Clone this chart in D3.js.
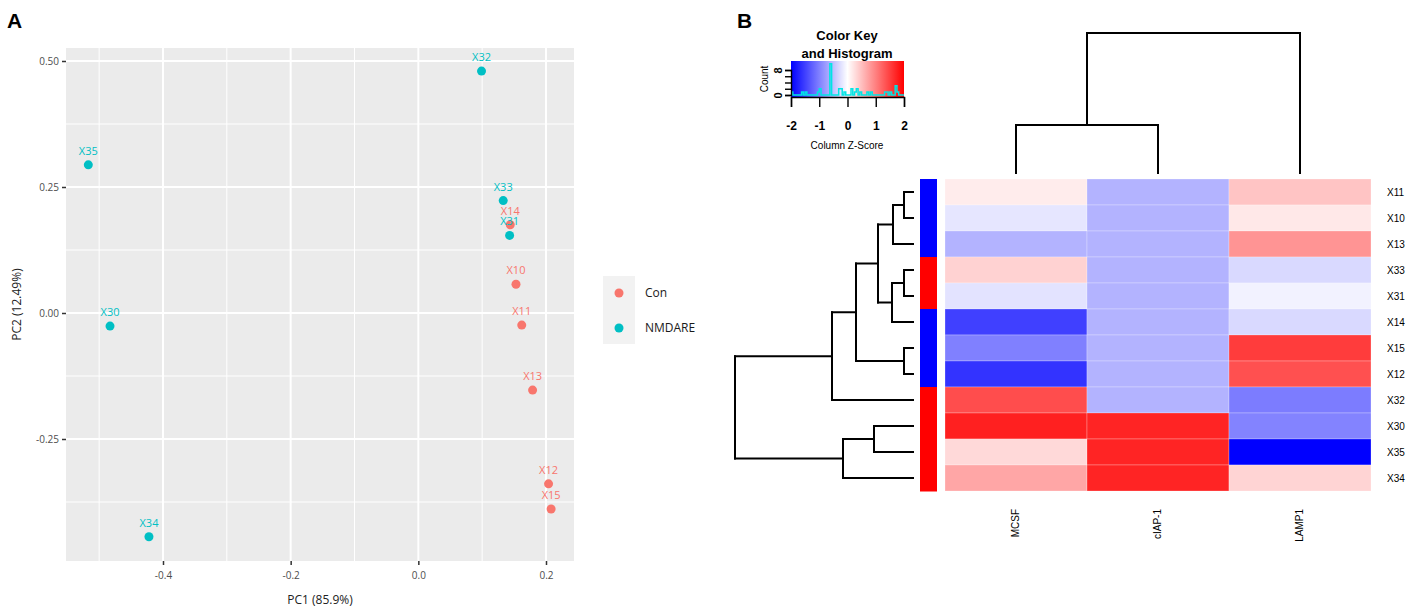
<!DOCTYPE html>
<html>
<head>
<meta charset="utf-8">
<script src="https://cdn.jsdelivr.net/npm/d3@7"></script>
<style>
  body { margin: 0; background: #fff; }
  svg { display: block; }
</style>
</head>
<body>
<script>
// ---- panel A data (PCA) ----
const pcaSamples = ["X35", "X30", "X34", "X32", "X33", "X14", "X31", "X10", "X11", "X13", "X12", "X15"];
const pcaGroup = ["NMDARE", "NMDARE", "NMDARE", "NMDARE", "NMDARE", "Con", "NMDARE", "Con", "Con", "Con", "Con", "Con"];
const pc1 = [-0.517, -0.483, -0.422, 0.099, 0.133, 0.144, 0.143, 0.153, 0.162, 0.179, 0.204, 0.208];
const pc2 = [0.294, -0.026, -0.444, 0.48, 0.223, 0.175, 0.154, 0.057, -0.024, -0.153, -0.339, -0.389];
const groups = ["Con", "NMDARE"];
const pc1Ticks = [-0.4, -0.2, 0.0, 0.2];
const pc2Ticks = [-0.25, 0.0, 0.25, 0.5];

// ---- panel B data (heatmap, column z-scores) ----
const genes = ["MCSF", "cIAP-1", "LAMP1"];
const rowSamples = ["X11", "X10", "X13", "X33", "X31", "X14", "X15", "X12", "X32", "X30", "X35", "X34"];
const mcsf = [0.15, -0.2, -0.6, 0.35, -0.22, -1.5, -1.0, -1.6, 1.4, 1.75, 0.3, 0.7];
const ciap1 = [-0.6, -0.6, -0.6, -0.6, -0.6, -0.6, -0.6, -0.6, -0.6, 1.72, 1.72, 1.72];
const lamp1 = [0.46, 0.18, 0.84, -0.3, -0.1, -0.3, 1.53, 1.37, -1.03, -0.97, -2.0, 0.34];
const rowSide = ["a", "a", "a", "b", "b", "a", "a", "a", "b", "b", "b", "b"];
// hclust-style merges: negative = leaf (1-based), positive = earlier merge
const rowMerge = [
  [-1, -2, 0.9], [-4, -5, 0.9], [-7, -8, 0.9], [1, -3, 2.0], [2, -6, 2.1], [4, 5, 3.5],
  [-10, -11, 3.9], [6, 3, 5.7], [7, -12, 7.0], [8, -9, 8.1], [10, 9, 17.8]
];
const colMerge = [[-1, -2, 4.8], [1, -3, 14.0]];
const keyTicks = [-2, -1, 0, 1, 2];

const svg = d3.select("body").append("svg").attr("width", 1417).attr("height", 616);

svg.append("text").attr("x", 7).attr("y", 28).text("A")
  .style("font", "bold 21px 'Liberation Sans', Arial, sans-serif");
svg.append("text").attr("x", 737).attr("y", 28).text("B")
  .style("font", "bold 21px 'Liberation Sans', Arial, sans-serif");

const hyphen = (f) => (d) => f(d).replace("\u2212", "-");

// ================= Panel A =================
const pFont = "'Open Sans', 'Noto Sans', sans-serif";
const panel = { left: 66, right: 574, top: 48, bottom: 561 };
const x = d3.scaleLinear().domain([-0.4, 0.2]).range([163, 546]);
const y = d3.scaleLinear().domain([-0.25, 0.5]).range([439, 61]);
const groupColor = d3.scaleOrdinal().domain(groups).range(["#F8766D", "#00BFC4"]);

const gA = svg.append("g");
gA.append("rect").attr("x", panel.left).attr("y", panel.top)
  .attr("width", panel.right - panel.left).attr("height", panel.bottom - panel.top)
  .attr("fill", "#ebebeb");

const minorX = [-0.5, -0.3, -0.1, 0.1];
const minorY = [-0.375, -0.125, 0.125, 0.375];
gA.selectAll("line.minx").data(minorX).join("line")
  .attr("x1", (d) => x(d)).attr("x2", (d) => x(d)).attr("y1", panel.top).attr("y2", panel.bottom)
  .attr("stroke", "#fff").attr("stroke-width", 1);
gA.selectAll("line.miny").data(minorY).join("line")
  .attr("y1", (d) => y(d)).attr("y2", (d) => y(d)).attr("x1", panel.left).attr("x2", panel.right)
  .attr("stroke", "#fff").attr("stroke-width", 1);

const xAxis = gA.append("g").attr("transform", `translate(0,${panel.bottom})`)
  .call(d3.axisBottom(x).tickValues(pc1Ticks).tickSize(4).tickPadding(7).tickFormat(hyphen(d3.format(".1f"))));
const yAxis = gA.append("g").attr("transform", `translate(${panel.left},0)`)
  .call(d3.axisLeft(y).tickValues(pc2Ticks).tickSize(4).tickPadding(3).tickFormat(hyphen(d3.format(".2f"))));
[xAxis, yAxis].forEach((ax) => {
  ax.select(".domain").remove();
  ax.selectAll("line").attr("stroke", "#333").attr("stroke-width", 1.5);
  ax.selectAll("text").attr("fill", "#4d4d4d").style("font", `10px ${pFont}`);
});
// major grid
gA.selectAll("line.majx").data(pc1Ticks).join("line")
  .attr("x1", (d) => x(d)).attr("x2", (d) => x(d)).attr("y1", panel.top).attr("y2", panel.bottom)
  .attr("stroke", "#fff").attr("stroke-width", 2);
gA.selectAll("line.majy").data(pc2Ticks).join("line")
  .attr("y1", (d) => y(d)).attr("y2", (d) => y(d)).attr("x1", panel.left).attr("x2", panel.right)
  .attr("stroke", "#fff").attr("stroke-width", 2);

gA.append("text").attr("x", (panel.left + panel.right) / 2).attr("y", 604)
  .attr("text-anchor", "middle").attr("fill", "#222").style("font", `12px ${pFont}`).text("PC1 (85.9%)");
gA.append("text").attr("transform", `translate(21,${(panel.top + panel.bottom) / 2}) rotate(-90)`)
  .attr("text-anchor", "middle").attr("fill", "#222").style("font", `12px ${pFont}`).text("PC2 (12.49%)");

const pts = pcaSamples.map((s, i) => ({ name: s, group: pcaGroup[i], pc1: pc1[i], pc2: pc2[i] }));
gA.selectAll("circle.pt").data(pts).join("circle")
  .attr("cx", (d) => x(d.pc1)).attr("cy", (d) => y(d.pc2)).attr("r", 4.5)
  .attr("fill", (d) => groupColor(d.group));
gA.selectAll("text.lab").data(pts).join("text")
  .attr("x", (d) => x(d.pc1)).attr("y", (d) => y(d.pc2) - 10)
  .attr("text-anchor", "middle").attr("fill", (d) => groupColor(d.group))
  .style("font", `11px ${pFont}`).text((d) => d.name);

// legend
const leg = gA.append("g");
leg.append("rect").attr("x", 603).attr("y", 276).attr("width", 32).attr("height", 68).attr("fill", "#f2f2f2");
leg.selectAll("circle").data(groups).join("circle")
  .attr("cx", 619).attr("cy", (d, i) => 293 + i * 35).attr("r", 4.5).attr("fill", (d) => groupColor(d));
leg.selectAll("text").data(groups).join("text")
  .attr("x", 645).attr("y", (d, i) => 297 + i * 35).attr("fill", "#1a1a1a")
  .style("font", `12px ${pFont}`).text((d) => d);

// ================= Panel B =================
const bFont = "'Liberation Sans', Arial, sans-serif";
const gB = svg.append("g");
const zColor = d3.scaleLinear().domain([-2, 0, 2]).range(["#0000ff", "#ffffff", "#ff0000"]);

// color key
const kx = d3.scaleLinear().domain([-2, 2]).range([791, 904]);
const ky = d3.scaleLinear().domain([0, 8]).range([95, 70]);
const defs = svg.append("defs");
const grad = defs.append("linearGradient").attr("id", "keygrad");
d3.range(-2, 2.01, 0.25).forEach((v) => {
  grad.append("stop").attr("offset", `${((v + 2) / 4) * 100}%`).attr("stop-color", zColor(v));
});
defs.append("clipPath").attr("id", "keyclip").append("rect")
  .attr("x", 791).attr("y", 61).attr("width", 113).attr("height", 36);
gB.append("rect").attr("x", 791).attr("y", 61).attr("width", 113).attr("height", 36).attr("fill", "url(#keygrad)");

const allZ = mcsf.concat(ciap1, lamp1);
const bins = d3.bin().domain([-2, 2]).thresholds(d3.range(-2, 2, 4 / 64))(allZ);
const histPts = [];
bins.forEach((b) => { histPts.push([b.x0, b.length]); histPts.push([b.x1, b.length]); });
gB.append("path").attr("clip-path", "url(#keyclip)")
  .attr("d", d3.line().x((d) => kx(d[0])).y((d) => ky(d[1]))(histPts))
  .attr("fill", "none").attr("stroke", "#00e5e5").attr("stroke-width", 1.5);

const kxAxis = gB.append("g").attr("transform", "translate(0,97)")
  .call(d3.axisBottom(kx).tickValues(keyTicks).tickSize(10).tickPadding(14).tickFormat(d3.format("d")));
const kyAxis = gB.append("g").attr("transform", "translate(791,0)")
  .call(d3.axisLeft(ky).tickValues([0, 2, 4, 6, 8]).tickSize(6).tickFormat((d) => (d === 0 || d === 8 ? d : "")));
[kxAxis, kyAxis].forEach((ax) => {
  ax.selectAll("line").attr("stroke", "#000").attr("stroke-width", 1.4);
  ax.select(".domain").attr("stroke", "#000").attr("stroke-width", 1.4);
  ax.selectAll("text").attr("fill", "#000").style("font", `bold 11px ${bFont}`);
});
kxAxis.selectAll(".tick text").text((d) => String(d)).style("font-size", "12px");
kyAxis.selectAll(".tick text").attr("transform", "rotate(-90)").attr("x", 0).attr("y", -13)
  .attr("text-anchor", "middle").attr("dy", "0.32em");
gB.append("text").attr("transform", "translate(768,79) rotate(-90)").attr("text-anchor", "middle")
  .style("font", `10px ${bFont}`).text("Count");
gB.append("text").attr("x", 847).attr("y", 149).attr("text-anchor", "middle")
  .style("font", `10px ${bFont}`).text("Column Z-Score");
gB.append("text").attr("x", 847).attr("y", 40).attr("text-anchor", "middle")
  .style("font", `bold 13px ${bFont}`).text("Color Key");
gB.append("text").attr("x", 847).attr("y", 58).attr("text-anchor", "middle")
  .style("font", `bold 13px ${bFont}`).text("and Histogram");

// heatmap cells
const hx = d3.scaleBand().domain(genes).range([945, 1371]);
const hy = d3.scaleBand().domain(rowSamples).range([179, 491]);
const cols = [mcsf, ciap1, lamp1];
const cells = [];
genes.forEach((g, j) => rowSamples.forEach((s, i) => cells.push({ gene: g, sample: s, z: cols[j][i] })));
gB.selectAll("rect.cell").data(cells).join("rect")
  .attr("x", (d) => hx(d.gene)).attr("y", (d) => hy(d.sample))
  .attr("width", hx.bandwidth()).attr("height", hy.bandwidth())
  .attr("fill", (d) => zColor(d.z)).attr("stroke", "#fff").attr("stroke-width", 0.5).attr("stroke-opacity", 0.5);

// row side colors
const sideColor = d3.scaleOrdinal().domain(["a", "b"]).range(["#0000ff", "#ff0000"]);
gB.selectAll("rect.side").data(rowSamples).join("rect")
  .attr("x", 920).attr("y", (d) => hy(d)).attr("width", 17).attr("height", hy.bandwidth() + 0.5)
  .attr("fill", (d, i) => sideColor(rowSide[i]));

gB.selectAll("text.rowlab").data(rowSamples).join("text")
  .attr("x", 1387).attr("y", (d) => hy(d) + hy.bandwidth() / 2).attr("dy", "0.35em")
  .style("font", `10px ${bFont}`).text((d) => d);
gB.selectAll("text.collab").data(genes).join("text")
  .attr("transform", (d) => `translate(${hx(d) + hx.bandwidth() / 2 + 3},509) rotate(-90)`)
  .attr("text-anchor", "end").style("font", `10px ${bFont}`).text((d) => d);

// dendrograms
const drawDendro = (merge, leafPos, hScale, horizontal) => {
  const pos = [];
  const hgt = [];
  const get = (k) => (k < 0 ? [leafPos[-k - 1], 0] : [pos[k - 1], hgt[k - 1]]);
  const segs = [];
  merge.forEach(([a, b, h]) => {
    const [pa, ha] = get(a);
    const [pb, hb] = get(b);
    pos.push((pa + pb) / 2);
    hgt.push(h);
    segs.push([pa, ha, pa, h], [pb, hb, pb, h], [pa, h, pb, h]);
  });
  gB.append("g").selectAll("line").data(segs).join("line")
    .attr("x1", (s) => (horizontal ? hScale(s[1]) : s[0]))
    .attr("y1", (s) => (horizontal ? s[0] : hScale(s[1])))
    .attr("x2", (s) => (horizontal ? hScale(s[3]) : s[2]))
    .attr("y2", (s) => (horizontal ? s[2] : hScale(s[3])))
    .attr("stroke", "#000").attr("stroke-width", 2).attr("stroke-linecap", "square");
};
drawDendro(rowMerge, rowSamples.map((s) => hy(s) + hy.bandwidth() / 2),
  d3.scaleLinear().domain([0, 17.8]).range([913, 735]), true);
drawDendro(colMerge, genes.map((g) => hx(g) + hx.bandwidth() / 2),
  d3.scaleLinear().domain([0, 14]).range([173, 33]), false);
</script>
</body>
</html>
